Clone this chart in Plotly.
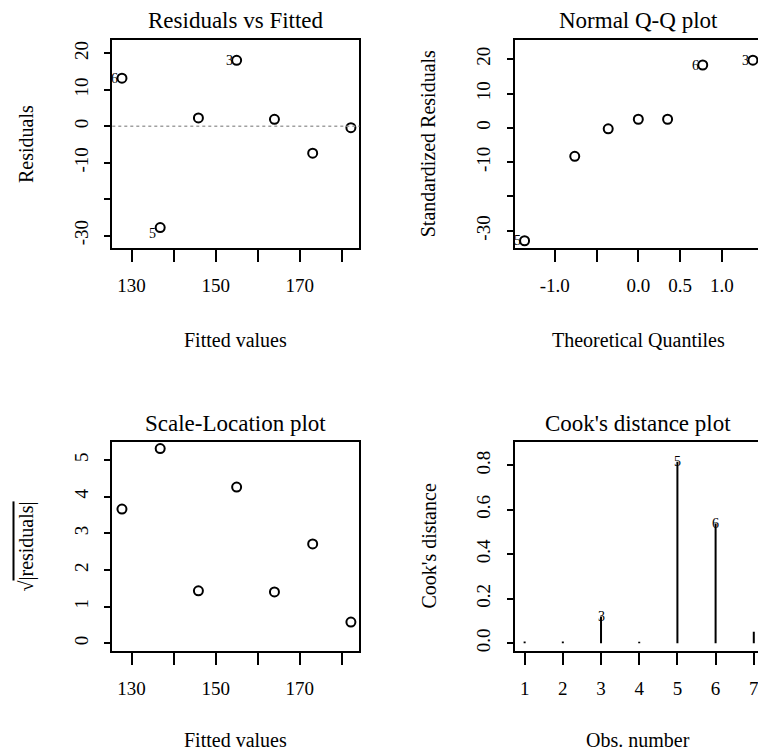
import plotly.graph_objects as go

# Regression diagnostics for a 7-observation linear model
fitted = [127.7, 136.8, 145.9, 155.0, 164.0, 173.1, 182.2]
residuals = [13.2, -27.8, 2.3, 18.1, 1.9, -7.4, -0.4]
resid_ids = ["6", "5", "", "3", "", "", ""]

qq_theoretical = [-1.36, -0.76, -0.36, 0.0, 0.35, 0.77, 1.37]
qq_std_resid = [-32.9, -8.3, -0.3, 2.5, 2.5, 18.3, 19.7]
qq_ids = ["5", "", "", "", "", "6", "3"]

scale_loc = [3.66, 5.31, 1.43, 4.26, 1.40, 2.71, 0.58]

obs_number = [1, 2, 3, 4, 5, 6, 7]
cooks_d = [0.008, 0.008, 0.12, 0.007, 0.816, 0.539, 0.052]
cook_ids = ["", "", "3", "", "5", "6", ""]

resid_ticks = [-30, -20, -10, 0, 10, 20]
resid_ticktext = ["-30", "", "-10", "0", "10", "20"]
fitted_ticks = [130, 140, 150, 160, 170, 180]
fitted_ticktext = ["130", "", "150", "", "170", ""]
qq_ticks = [-1.0, -0.5, 0.0, 0.5, 1.0]
qq_ticktext = ["-1.0", "", "0.0", "0.5", "1.0"]
sl_ticks = [0, 1, 2, 3, 4, 5]
cook_ticks = [0.0, 0.2, 0.4, 0.6, 0.8]
cook_ticktext = ["0.0", "0.2", "0.4", "0.6", "0.8"]

W, H = 758, 751
FONT = "Liberation Serif, Times New Roman, serif"
TICK = 19
TITLE = 23
LAB = 20

fig = go.Figure()

marker = dict(symbol="circle-open", size=9, color="black", line=dict(width=2, color="black"))

fig.add_trace(go.Scatter(x=fitted, y=residuals, mode="markers", marker=marker,
                         xaxis="x", yaxis="y", showlegend=False))
fig.add_trace(go.Scatter(x=qq_theoretical, y=qq_std_resid, mode="markers", marker=marker,
                         xaxis="x2", yaxis="y2", showlegend=False))
fig.add_trace(go.Scatter(x=fitted, y=scale_loc, mode="markers", marker=marker,
                         xaxis="x3", yaxis="y3", showlegend=False))

# Cook's distance as vertical spikes from zero (type="h")
spike_x, spike_y = [], []
for o, d in zip(obs_number, cooks_d):
    spike_x += [o, o, None]
    spike_y += [0, d, None]
fig.add_trace(go.Scatter(x=spike_x, y=spike_y, mode="lines", line=dict(color="black", width=2),
                         xaxis="x4", yaxis="y4", showlegend=False))


def px_x(p):
    return p / W


def px_y(p):
    return 1 - p / H


top_dom = [px_y(248.3), px_y(40.3)]
bot_dom = [px_y(651), px_y(442)]
left_dom = [px_x(112.3), px_x(359.3)]
right_dom = [px_x(514.7), 1.0]


def xaxis(dom, rng, tv, tt, anchor, mirror=True):
    return dict(domain=dom, range=rng, tickvals=tv, ticktext=tt, anchor=anchor,
                showgrid=False, zeroline=False, showline=True, mirror=mirror,
                linecolor="black", linewidth=2, ticks="outside", ticklen=12,
                tickwidth=2, tickcolor="black", ticklabelstandoff=7,
                ticklabeloverflow="allow",
                tickfont=dict(family=FONT, size=TICK, color="black"))


def yaxis(dom, rng, tv, tt, anchor, mirror=True):
    return dict(domain=dom, range=rng, tickvals=tv, ticktext=tt, anchor=anchor,
                showgrid=False, zeroline=False, showline=True, mirror=mirror,
                linecolor="black", linewidth=2, ticks="outside", ticklen=6,
                tickwidth=2, tickcolor="black", tickangle=-90, ticklabelstandoff=9,
                tickfont=dict(family=FONT, size=TICK, color="black"))


fig.update_layout(
    xaxis=xaxis(left_dom, [125.4, 184.2], fitted_ticks, fitted_ticktext, "y"),
    yaxis=yaxis(top_dom, [-33.5, 23.6], resid_ticks, resid_ticktext, "x"),
    xaxis2=xaxis(right_dom, [-1.478, 1.431], qq_ticks, qq_ticktext, "y2"),
    yaxis2=yaxis(top_dom, [-35.1, 25.5], resid_ticks, resid_ticktext, "x2", mirror=False),
    xaxis3=xaxis(left_dom, [125.4, 184.2], fitted_ticks, fitted_ticktext, "y3"),
    yaxis3=yaxis(bot_dom, [-0.21, 5.49], sl_ticks, [str(v) for v in sl_ticks], "x3"),
    xaxis4=xaxis(right_dom, [0.74, 7.11], obs_number, [str(v) for v in obs_number], "y4"),
    yaxis4=yaxis(bot_dom, [-0.035, 0.905], cook_ticks, cook_ticktext, "x4", mirror=False),
    width=W, height=H, margin=dict(l=0, r=0, t=0, b=0),
    plot_bgcolor="white", paper_bgcolor="white",
)

# horizontal reference at zero residual
fig.add_shape(type="line", xref="x domain", yref="y", x0=0, x1=1, y0=0, y1=0,
              line=dict(color="#a0a0a0", width=1.5, dash="dot"))

ann = []

# panel titles
for text, xc, yc in [("Residuals vs Fitted", 235.8, 20.7),
                     ("Normal Q-Q plot", 638.3, 20.7),
                     ("Scale-Location plot", 235.8, 423.3),
                     ("Cook's distance plot", 638.3, 423.3)]:
    ann.append(dict(text=text, x=px_x(xc), y=px_y(yc), xref="paper", yref="paper",
                    showarrow=False, xanchor="center", yanchor="middle",
                    font=dict(family=FONT, size=TITLE, color="black")))

# x-axis titles
for text, xc, yc in [("Fitted values", 235.8, 340),
                     ("Theoretical Quantiles", 638.3, 340),
                     ("Fitted values", 235.8, 740),
                     ("Obs. number", 638.3, 740)]:
    ann.append(dict(text=text, x=px_x(xc), y=px_y(yc), xref="paper", yref="paper",
                    showarrow=False, xanchor="center", yanchor="middle",
                    font=dict(family=FONT, size=LAB, color="black")))

# y-axis titles
for text, xc, yc in [("Residuals", 26.7, 144.3),
                     ("Standardized Residuals", 428, 144.3),
                     ("√<span style='text-decoration:overline'>|residuals|</span>", 26, 546.5),
                     ("Cook's distance", 428, 546.5)]:
    ann.append(dict(text=text, x=px_x(xc), y=px_y(yc), xref="paper", yref="paper",
                    showarrow=False, xanchor="center", yanchor="middle", textangle=-90,
                    font=dict(family=FONT, size=LAB, color="black")))

# point identifiers
LBL = dict(family=FONT, size=14, color="black")
for xv, yv, t in zip(fitted, residuals, resid_ids):
    if t:
        shift_y = -6 if yv < -20 else 0
        ann.append(dict(text=t, x=xv, y=yv, xref="x", yref="y", showarrow=False,
                        xanchor="right", yanchor="middle", xshift=-2, yshift=shift_y, font=LBL))
for xv, yv, t in zip(qq_theoretical, qq_std_resid, qq_ids):
    if t:
        ann.append(dict(text=t, x=xv, y=yv, xref="x2", yref="y2", showarrow=False,
                        xanchor="right", yanchor="middle", xshift=-2, font=LBL))
for xv, yv, t in zip(obs_number, cooks_d, cook_ids):
    if t:
        ann.append(dict(text=t, x=xv, y=yv, xref="x4", yref="y4", showarrow=False,
                        xanchor="center", yanchor="middle", font=LBL))

fig.update_layout(annotations=ann)
fig.write_html("out.html")
